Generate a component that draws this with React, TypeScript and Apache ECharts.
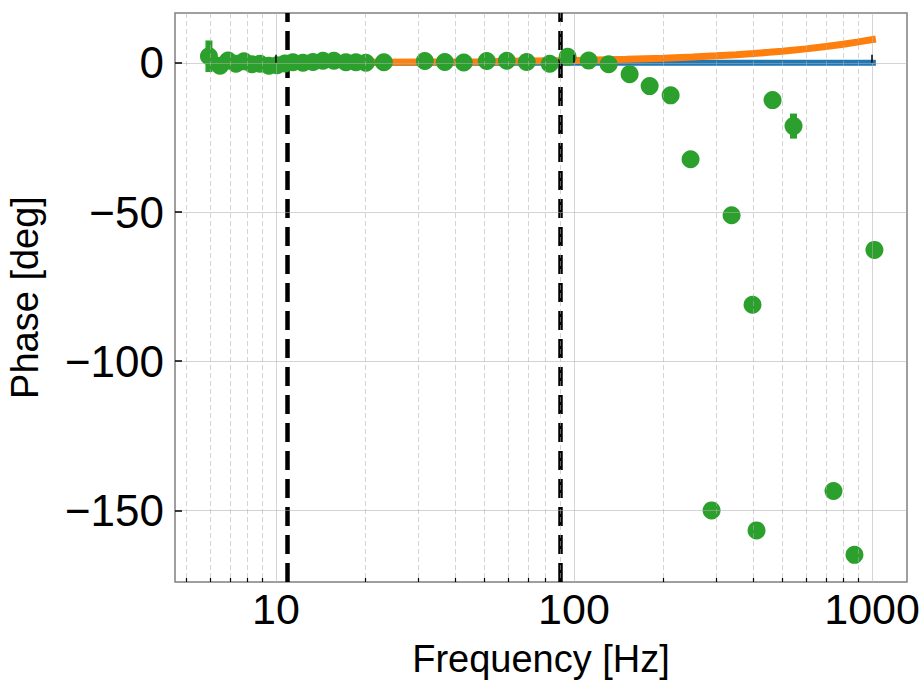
import React, { useEffect, useRef } from "react";
import * as echarts from "echarts";

// Measured phase points (Hz, deg)
const greenFreq = [
  5.96, 6.49, 6.91, 7.34, 7.81, 8.31, 8.84, 9.47, 10.08, 10.72, 11.4, 12.32, 13.31, 14.38,
  15.65, 17.17, 18.55, 20.03, 23.02, 31.59, 36.86, 42.68, 50.97, 59.49, 69.4, 82.9, 95.2,
  112.0, 130.7, 153.7, 179.4, 211.0, 246.1, 289.5, 337.9, 397.2, 409.7, 463.6, 545.2, 742.5,
  873.0, 1018.6,
];
const greenPhase = [
  2.2, -1.0, 0.8, -0.3, 0.5, -0.5, -0.3, -1.0, -0.8, -0.2, 0.2, 0.0, 0.3, 0.7, 0.7, 0.2, 0.2,
  0.0, 0.2, 0.6, 0.3, 0.1, 0.6, 0.7, 0.3, -0.3, 2.0, 0.8, -0.5, -3.8, -7.8, -10.9, -32.3,
  -150.0, -51.1, -81.1, -156.7, -12.5, -21.2, -143.5, -164.9, -62.7,
];

// Error bars (Hz, low, high)
const errFreq = [5.96, 545.2];
const errLow = [-3.1, -25.4];
const errHigh = [7.5, -17.0];

// Model curves
const modelFreq = [6, 10, 20, 50, 100, 150, 200, 250, 300, 350, 400, 450, 500, 600, 700, 800, 900, 1030];
const blueVals = [0, 0, 0, 0, 0, 0, 0, 0, 0, 0, 0, 0, 0, 0, 0, 0, 0, 0];
const orangeVals = [0.05, 0.08, 0.16, 0.39, 0.78, 1.17, 1.56, 1.95, 2.34, 2.73, 3.12, 3.51, 3.9, 4.68, 5.46, 6.24, 7.02, 8.0];

// Vertical reference lines (Hz)
const vLines = [10.9, 89.6];

// Axis ticks
const xMajor = [10, 100, 1000];
const xMinor = [5, 6, 7, 8, 9, 20, 30, 40, 50, 60, 70, 80, 90, 200, 300, 400, 500, 600, 700, 800, 900];
const yMajor = [-150, -100, -50, 0];

const FONT = "Liberation Sans, Arial, Helvetica, sans-serif";
const GRID_COLOR = "rgba(176,176,176,0.55)";

export default function App() {
  const ref = useRef<HTMLDivElement>(null);
  useEffect(() => {
    if (!ref.current) return;
    const chart = echarts.init(ref.current, null, { renderer: "svg" });
    const xMin = 4.585;
    const xMax = 1310;
    const option: any = {
      animation: false,
      backgroundColor: "#ffffff",
      grid: {
        left: 175,
        right: 16,
        top: 13,
        bottom: 101,
        containLabel: false,
        outerBoundsMode: "none",
        show: true,
        borderColor: "#808080",
        borderWidth: 1.5,
        backgroundColor: "transparent",
      },
      xAxis: [
        {
          type: "log",
          logBase: 10,
          min: xMin,
          max: xMax,
          position: "bottom",
          z: 10,
          name: "Frequency [Hz]",
          nameLocation: "middle",
          nameGap: 58,
          nameTextStyle: { fontFamily: FONT, fontSize: 38, color: "#000" },
          axisLine: { show: false },
          axisTick: {
            show: true,
            inside: true,
            length: 8,
            customValues: xMajor,
            lineStyle: { color: "#000", width: 1.5 },
          },
          axisLabel: {
            show: true,
            customValues: xMajor,
            fontFamily: FONT,
            fontSize: 43,
            color: "#000",
            margin: 5,
            formatter: (v: number) => String(Math.round(v)),
          },
          splitLine: { show: true, lineStyle: { color: GRID_COLOR, width: 1, type: "solid" } },
          minorTick: { show: false },
        },
        {
          type: "log",
          logBase: 10,
          min: xMin,
          max: xMax,
          position: "bottom",
          z: 10,
          axisLine: { show: false },
          axisTick: {
            show: true,
            inside: true,
            length: 4,
            customValues: xMinor,
            lineStyle: { color: "#000", width: 1.2 },
          },
          axisLabel: { show: false, customValues: xMinor },
          splitLine: { show: true, lineStyle: { color: GRID_COLOR, width: 1, type: [5, 3] } },
        },
      ],
      yAxis: [
        {
          type: "value",
          min: -174,
          max: 16.7,
          z: 10,
          name: "Phase [deg]",
          nameLocation: "middle",
          nameGap: 131,
          nameRotate: 90,
          nameTextStyle: { fontFamily: FONT, fontSize: 38, color: "#000" },
          axisLine: { show: false },
          axisTick: {
            show: true,
            inside: true,
            length: 7,
            customValues: yMajor,
            lineStyle: { color: "#000", width: 1.5 },
          },
          axisLabel: {
            show: true,
            customValues: yMajor,
            fontFamily: FONT,
            fontSize: 44,
            color: "#000",
            margin: 11,
            formatter: (v: number) => (v < 0 ? "\u2212" + Math.abs(v) : String(v)),
          },
          splitLine: { show: true, lineStyle: { color: GRID_COLOR, width: 1 } },
        },
      ],
      series: [
        {
          type: "line",
          name: "model0",
          z: 2,
          xAxisIndex: 0,
          showSymbol: false,
          symbol: "none",
          data: modelFreq.map((f, i) => [f, blueVals[i]]),
          lineStyle: { color: "#1f77b4", width: 6 },
        },
        {
          type: "line",
          name: "model1",
          z: 3,
          xAxisIndex: 0,
          showSymbol: false,
          symbol: "none",
          data: modelFreq.map((f, i) => [f, orangeVals[i]]),
          lineStyle: { color: "#ff7f0e", width: 7 },
          markLine: {
            silent: true,
            symbol: ["none", "none"],
            label: { show: false },
            z: 5,
            lineStyle: { color: "#000000", width: 4.5, type: [19, 9] },
            data: vLines.map((v) => ({ xAxis: v })),
          },
        },
        {
          type: "custom",
          name: "err",
          z: 6,
          xAxisIndex: 0,
          encode: { x: 0, y: [1, 2] },
          data: errFreq.map((f, i) => [f, errLow[i], errHigh[i]]),
          renderItem: (params: any, api: any) => {
            const x = api.value(0);
            const p1 = api.coord([x, api.value(2)]);
            const p2 = api.coord([x, api.value(1)]);
            return {
              type: "rect",
              shape: { x: p1[0] - 3.5, y: p1[1], width: 7, height: p2[1] - p1[1] },
              style: { fill: "#2ca02c" },
            };
          },
        },
        {
          type: "scatter",
          name: "data",
          z: 7,
          xAxisIndex: 0,
          symbol: "circle",
          symbolSize: 18,
          itemStyle: { color: "#2ca02c", opacity: 1 },
          data: greenFreq.map((f, i) => [f, greenPhase[i]]),
        },
      ],
    };
    chart.setOption(option);
    return () => chart.dispose();
  }, []);
  return (
    <div
      ref={ref}
      style={{ position: "fixed", left: 0, top: 0, width: 923, height: 683, background: "#fff" }}
    />
  );
}
